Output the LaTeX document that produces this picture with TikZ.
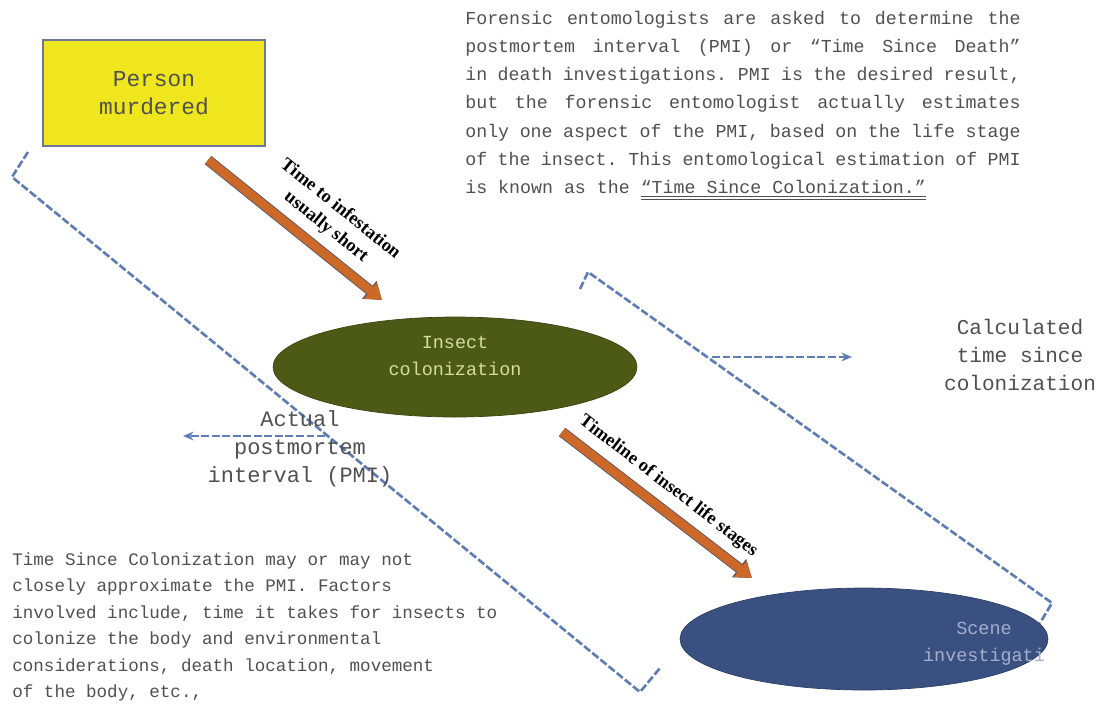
\documentclass[tikz,border=0pt]{standalone}
\usepackage{fontspec}
\usepackage{tikz}
\usetikzlibrary{shapes.geometric}
\usetikzlibrary{arrows.meta}
\usetikzlibrary{positioning}
\setmainfont{Liberation Serif}
\setmonofont{Liberation Mono}

\definecolor{boxyellow}{RGB}{240,230,30}
\definecolor{boxedge}{RGB}{110,120,150}
\definecolor{insectgreen}{RGB}{76,90,22}
\definecolor{insecttext}{RGB}{215,220,160}
\definecolor{sceneblue}{RGB}{58,80,128}
\definecolor{scenetext}{RGB}{165,175,205}
\definecolor{dashblue}{RGB}{95,125,180}
\definecolor{arroworange}{RGB}{205,105,40}
\definecolor{arrowedge}{RGB}{85,85,105}
\definecolor{textgray}{RGB}{80,80,80}

\tikzset{
  monotext/.style={font=\ttfamily\fontsize{12.5}{16}\selectfont, text=textgray, align=center, inner sep=0pt},
  bracketline/.style={draw=dashblue, line width=1.5pt, dash pattern=on 4.5pt off 1.5pt, line join=round},
  dasharrow/.style={bracketline, -{Stealth[length=6pt,width=5pt]}},
  lifearrow/.style={draw=arroworange, line width=5pt, -{Triangle[length=8.5pt,width=11pt]},
    preaction={draw=arrowedge, line width=6pt, -{Triangle[length=9.3pt,width=12.6pt]}}},
  arrowlabel/.style={font=\bfseries\fontsize{10.5}{13}\selectfont, text=black, inner sep=1pt, align=center}
}

\begin{document}
\begin{tikzpicture}[x=0.02cm, y=-0.02cm]

\useasboundingbox (0,0) rectangle (1101,725);

% dashed brackets round the two intervals
\draw[bracketline] (28,152) -- (12,177) -- (640,692) -- (660,668);
\draw[bracketline] (580,289) -- (588,272) -- (1052,603) -- (1040,623);

% the three stages
\node[draw=boxedge, line width=0.8pt, fill=boxyellow, minimum width=4.44cm, minimum height=2.12cm,
      monotext, font=\ttfamily\fontsize{13}{16}\selectfont] (murder) at (154,93) {Person\\murdered};
\node[ellipse, fill=insectgreen, draw=insectgreen!75!black, minimum width=7.28cm, minimum height=2cm] (insect) at (455,367) {};
\node[monotext, text=insecttext, font=\ttfamily\fontsize{10.5}{15}\selectfont] (insectlbl) at (455,356) {Insect\\colonization};
\node[ellipse, fill=sceneblue, draw=sceneblue!80!black, minimum width=7.36cm, minimum height=2.04cm] (scene) at (864,639) {};
\node[monotext, text=scenetext, font=\ttfamily\fontsize{10.5}{15.5}\selectfont] (scenelbl) at (984,644) {Scene\\investigati};

% side labels
\node[monotext, font=\ttfamily\fontsize{12}{16}\selectfont] (calctime) at (1020,355) {Calculated\\time since\\colonization};
\node[monotext] (actualpmi) at (300,449) {Actual\\postmortem\\interval (PMI)};

% text blocks
\node[anchor=north west, inner sep=0pt, text width=316pt, align=justify, text=textgray,
      font=\ttfamily\fontsize{10.4}{16}\selectfont,
      execute at begin node={\spaceskip=0.6em plus 0.5em minus 0.15em}] (forensic) at (465,11)
  {Forensic entomologists are asked to determine the\linebreak
   postmortem interval (PMI) or “Time Since Death”\linebreak
   in death investigations. PMI is the desired result,\linebreak
   but the forensic entomologist actually estimates\linebreak
   only one aspect of the PMI, based on the life stage\linebreak
   of the insect. This entomological estimation of PMI\linebreak
   is known as the \underline{\underline{“Time Since Colonization.”}}};
\node[anchor=north west, inner sep=0pt, align=left, text=textgray,
      font=\ttfamily\fontsize{10}{15.1}\selectfont] (factors) at (12,552)
  {Time Since Colonization may or may not\\
   closely approximate the PMI. Factors\\
   involved include, time it takes for insects to\\
   colonize the body and environmental\\
   considerations, death location, movement\\
   of the body, etc.,};

% orange timeline arrows
\coordinate (infestfrom) at (208,160);
\coordinate (infestto) at (382,300);
\draw[lifearrow] (infestfrom) -- node[arrowlabel, sloped, above=4pt, pos=0.6] (infestlbl)
  {Time to infestation\\usually short} (infestto);

\coordinate (lifefrom) at (562,432);
\coordinate (lifeto) at (752,578);
\draw[lifearrow] (lifefrom) -- node[arrowlabel, sloped, above=4pt, pos=0.49] (lifelbl)
  {Timeline of insect life stages} (lifeto);

% dashed pointers
\coordinate (calcfrom) at (712,357);
\coordinate (calcto) at (852,357);
\draw[dasharrow] (calcfrom) -- (calcto);
\coordinate (pmifrom) at (325,436);
\coordinate (pmito) at (183,436);
\draw[dasharrow] (pmifrom) -- (pmito);

\end{tikzpicture}
\end{document}
